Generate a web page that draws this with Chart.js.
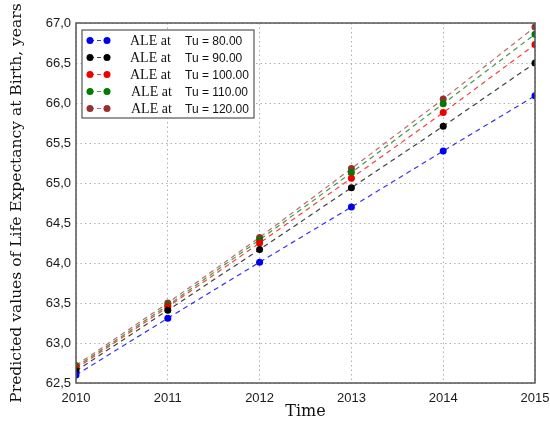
<!DOCTYPE html>
<html>
<head>
<meta charset="utf-8">
<script src="https://cdn.jsdelivr.net/npm/chart.js@4"></script>
<style>
  html, body { margin: 0; padding: 0; background: #fff; }
  #wrap { width: 550px; height: 421px; }
</style>
</head>
<body>
<div id="wrap"><canvas id="aleChart" width="550" height="421"></canvas></div>
<script>
// Years on the x axis
const years = [2010, 2011, 2012, 2013, 2014, 2015];

// Tu levels, one series each
const tuValues = [80, 90, 100, 110, 120];

// Predicted ALE values
const ale80  = [62.60, 63.31, 64.01, 64.70, 65.40, 66.09];
const ale90  = [62.65, 63.41, 64.17, 64.94, 65.71, 66.50];
const ale100 = [62.68, 63.45, 64.25, 65.06, 65.88, 66.73];
const ale110 = [62.70, 63.47, 64.29, 65.13, 65.99, 66.86];
const ale120 = [62.72, 63.50, 64.32, 65.18, 66.05, 66.95];

const yTicks = [62.5, 63.0, 63.5, 64.0, 64.5, 65.0, 65.5, 66.0, 66.5, 67.0];

const seriesValues = [ale80, ale90, ale100, ale110, ale120];
const pointColors = ['#0000ee', '#000000', '#ee0000', '#007a00', '#963030'];
const lineColors  = ['rgba(0,0,238,0.8)', 'rgba(0,0,0,0.75)', 'rgba(238,0,0,0.75)', 'rgba(0,122,0,0.75)', 'rgba(170,70,70,0.8)'];

const datasets = seriesValues.map((vals, i) => ({
    label: 'ALE at Tu = ' + tuValues[i].toFixed(2),
    data: vals.map((v, j) => ({ x: years[j], y: v })),
    borderColor: lineColors[i],
    backgroundColor: pointColors[i],
    pointBackgroundColor: pointColors[i],
    pointBorderColor: pointColors[i],
    pointRadius: 3.5,
    pointBorderWidth: 0,
    borderWidth: 1.2,
    borderDash: [5, 4],
    tension: 0,
    clip: 0
}));

// frame around the plot area plus the mixed-font legend
const framePlugin = {
    id: 'frame',
    afterDatasetsDraw(chart) {
        const { ctx, chartArea: a } = chart;
        ctx.save();
        ctx.strokeStyle = '#555';
        ctx.lineWidth = 1.5;
        ctx.strokeRect(a.left, a.top, a.right - a.left, a.bottom - a.top);

        // legend box
        const bx = 82, by = 30, bw = 172, bh = 88;
        ctx.fillStyle = '#fff';
        ctx.fillRect(bx, by, bw, bh);
        ctx.strokeStyle = '#555';
        ctx.lineWidth = 1.2;
        ctx.strokeRect(bx, by, bw, bh);

        chart.data.datasets.forEach((ds, i) => {
            const ry = 40.5 + i * 17;
            ctx.strokeStyle = lineColors[i];
            ctx.lineWidth = 1.2;
            ctx.setLineDash([4, 3]);
            ctx.beginPath();
            ctx.moveTo(90, ry);
            ctx.lineTo(107, ry);
            ctx.stroke();
            ctx.setLineDash([]);
            ctx.fillStyle = pointColors[i];
            [90, 107].forEach(px => {
                ctx.beginPath();
                ctx.arc(px, ry, 3.5, 0, Math.PI * 2);
                ctx.fill();
            });
            ctx.fillStyle = '#111';
            ctx.textBaseline = 'middle';
            ctx.font = '14px "Liberation Serif", "Times New Roman", serif';
            ctx.fillText('ALE at', 130 + (i >= 3 ? 1 : 0), ry + 1);
            ctx.font = '12px "Liberation Sans", Arial, sans-serif';
            ctx.fillText('Tu = ' + tuValues[i].toFixed(2), 185, ry + 1);
        });
        ctx.restore();
    }
};

const ctx = document.getElementById('aleChart').getContext('2d');
new Chart(ctx, {
    type: 'line',
    data: { datasets },
    options: {
        responsive: false,
        animation: false,
        layout: { padding: { top: 23, right: 15, left: 0, bottom: 0 } },
        plugins: {
            legend: { display: false },
            tooltip: { enabled: false }
        },
        scales: {
            x: {
                type: 'linear',
                min: 2010,
                max: 2015,
                afterFit: s => { s.height = 38; s.paddingLeft = 0; s.paddingRight = 0; },
                afterBuildTicks: s => { s.ticks = years.map(v => ({ value: v })); },
                ticks: {
                    callback: v => String(v),
                    color: '#1a1a1a',
                    font: { family: '"Liberation Sans", Arial, sans-serif', size: 13 },
                    padding: 8,
                    maxRotation: 0
                },
                grid: { color: '#b0b0b0', lineWidth: 1, drawTicks: false },
                border: { display: false, dash: [1.5, 3] },
                title: {
                    display: true,
                    text: 'Time',
                    color: '#111',
                    font: { family: '"DejaVu Serif", serif', size: 16 },
                    padding: { top: 0, bottom: 0 }
                }
            },
            y: {
                min: 62.5,
                max: 67,
                afterFit: s => { s.width = 76; },
                afterBuildTicks: s => { s.ticks = yTicks.map(v => ({ value: v })); },
                ticks: {
                    callback: v => v.toFixed(1).replace('.', ','),
                    color: '#1a1a1a',
                    font: { family: '"Liberation Sans", Arial, sans-serif', size: 13 },
                    padding: 5
                },
                grid: { color: '#b0b0b0', lineWidth: 1, drawTicks: false },
                border: { display: false, dash: [1.5, 3] },
                title: {
                    display: true,
                    text: 'Predicted values of Life Expectancy at Birth, years',
                    color: '#111',
                    font: { family: '"DejaVu Serif", serif', size: 15.5 },
                    padding: { top: 8, bottom: 4 }
                }
            }
        }
    },
    plugins: [framePlugin]
});
</script>
</body>
</html>
